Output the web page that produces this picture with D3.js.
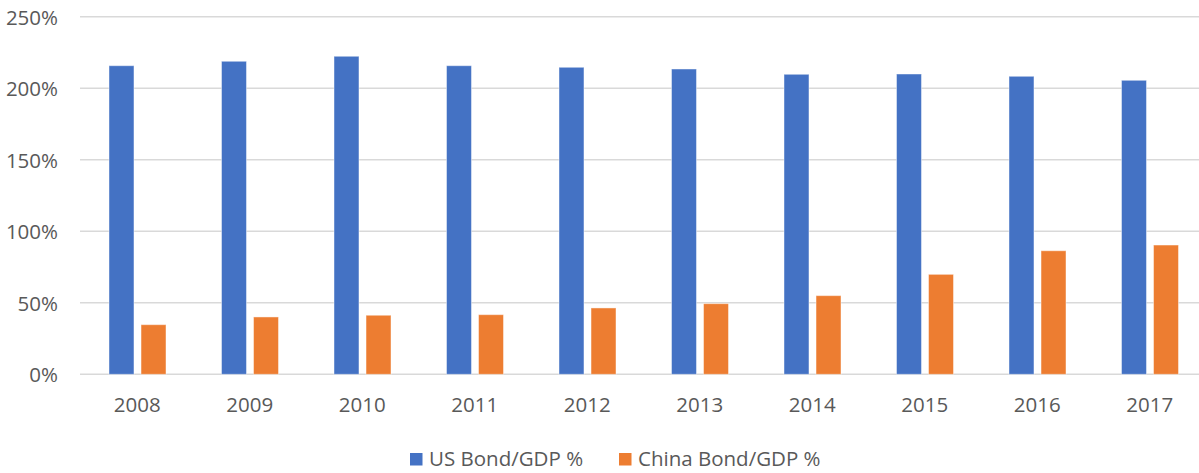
<html>
  <head>
    <title>US vs China Bond/GDP</title>
    <script src="https://d3js.org/d3.v7.min.js"></script>
    <style>
      body { margin: 0; background: #fff; }
      text { font-family: "Open Sans", "Noto Sans", sans-serif; fill: #595959; }
    </style>
  </head>
  <body>
    <svg id="barchart" width="1199" height="473"></svg>

    <script>
    // data
    const years = ["2008","2009","2010","2011","2012","2013","2014","2015","2016","2017"];
    const usBond = [2.158, 2.189, 2.224, 2.158, 2.147, 2.135, 2.098, 2.100, 2.084, 2.056];
    const chinaBond = [0.347, 0.401, 0.413, 0.417, 0.464, 0.494, 0.550, 0.699, 0.864, 0.904];
    const seriesNames = ["US Bond/GDP %", "China Bond/GDP %"];
    const seriesColors = ["#4472C4", "#ED7D31"];
    const yTicks = [0, 0.5, 1, 1.5, 2, 2.5];

    const svg = d3.select("svg#barchart");
    const margins = {"top":16.8, "left":81, "right":1206, "bottom":374.3};
    const fontSize = "20.5px";

    const data = years.map((y, i) => ({year: y, values: [usBond[i], chinaBond[i]]}));

    const yScale = d3.scaleLinear().domain([0, 2.5]).range([margins.bottom, margins.top]);
    const xScale = d3.scaleBand().domain(years).range([margins.left, margins.right]).padding(0);
    const innerScale = d3.scaleBand().domain([0,1])
                         .range([28, 85]).paddingInner(0.22);

    //gridlines
    svg.append("g").attr("class","y gridlines")
       .selectAll("line").data(yTicks).join("line")
       .attr("x1", margins.left - 1).attr("x2", 1199)
       .attr("y1", d => yScale(d)).attr("y2", d => yScale(d))
       .attr("stroke", "#D9D9D9").attr("stroke-width", 1.5);

    //y labels
    let leftAxis = d3.axisLeft(yScale).tickValues(yTicks)
                     .tickFormat(d3.format(".0%")).tickSize(0);
    let yAxisG = svg.append("g").attr("class","y axis")
       .attr("transform","translate(58,0)")
       .call(leftAxis);
    yAxisG.select(".domain").remove();
    yAxisG.selectAll("text").attr("x", 0).attr("dy", "0.36em")
          .style("font-size", fontSize).attr("fill","#595959");

    //bars
    let groups = svg.append("g").selectAll("g.year").data(data).join("g")
       .attr("class","year")
       .attr("transform", d => "translate("+xScale(d.year)+",0)");

    groups.selectAll("rect").data(d => d.values.map((v, k) => ({k: k, v: v}))).join("rect")
       .attr("x", d => innerScale(d.k))
       .attr("y", d => yScale(d.v))
       .attr("width", innerScale.bandwidth())
       .attr("height", d => yScale(0) - yScale(d.v))
       .attr("fill", d => seriesColors[d.k])
       .attr("stroke", "#ffffff").attr("stroke-opacity", 0.45).attr("stroke-width", 1);

    //x labels
    let bottomAxis = d3.axisBottom(xScale).tickSize(0);
    let xAxisG = svg.append("g").attr("class","x axis")
       .attr("transform","translate(0,"+margins.bottom+")")
       .call(bottomAxis);
    xAxisG.select(".domain").remove();
    xAxisG.selectAll("text").attr("y", 38).attr("dy", 0)
          .style("font-size", fontSize).attr("fill","#595959");

    //legend
    const legendX = [410, 619];
    let legend = svg.append("g").attr("class","legend");
    seriesNames.forEach((name, k) => {
      legend.append("rect")
        .attr("x", legendX[k]).attr("y", 453)
        .attr("width", 12.5).attr("height", 12.5)
        .attr("fill", seriesColors[k]);
      legend.append("text")
        .attr("x", legendX[k] + 19).attr("y", 466)
        .style("font-size", fontSize)
        .text(name);
    });
    </script>
  </body>
</html>
